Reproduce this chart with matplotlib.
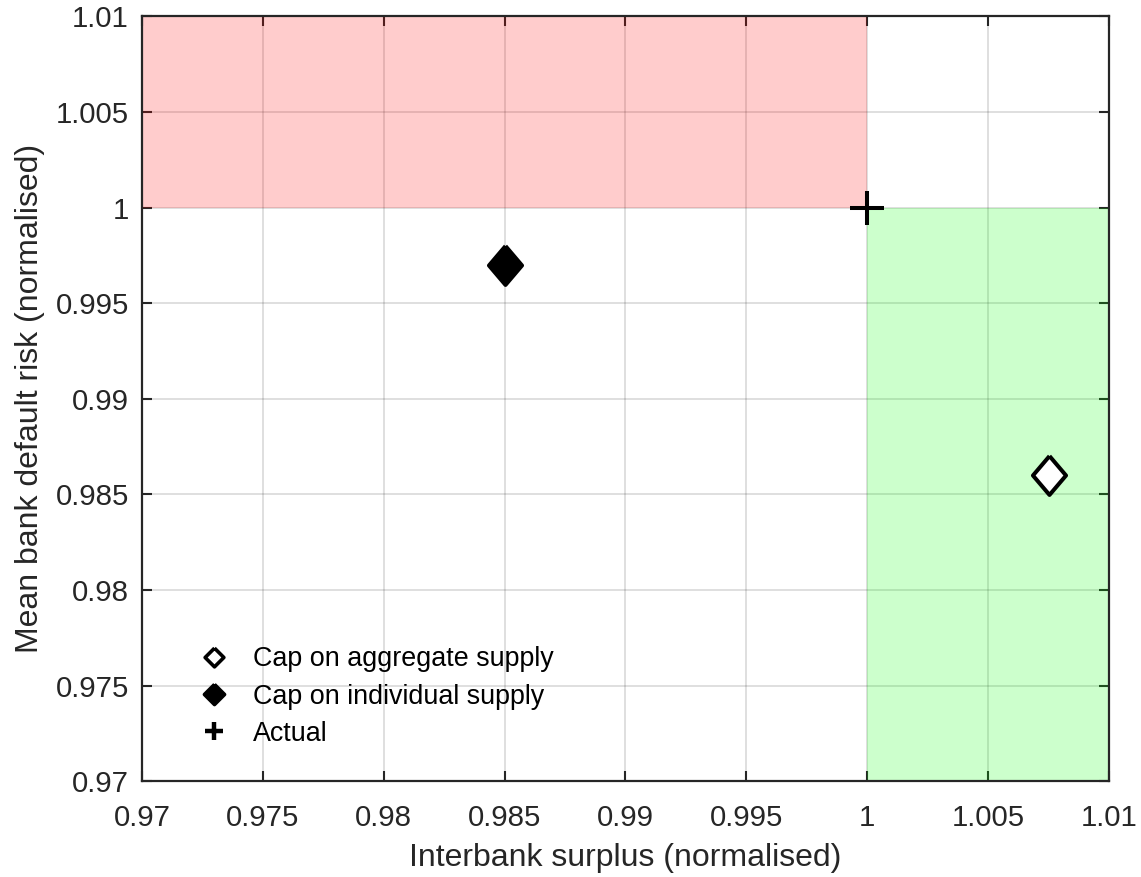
import numpy as np
import matplotlib
matplotlib.use('Agg')
import matplotlib.pyplot as plt
from matplotlib.lines import Line2D
from matplotlib.ticker import FuncFormatter

plt.rcParams['font.family'] = ['Liberation Sans', 'DejaVu Sans']

# normalised outcomes of the two policy scenarios and the actual outcome
labels = ['Cap on aggregate supply', 'Cap on individual supply', 'Actual']
surplus = [1.0075, 0.985, 1.0]
default_risk = [0.986, 0.997, 1.0]

xlim = (0.97, 1.01)
ylim = (0.97, 1.01)
ticks = [0.97, 0.975, 0.98, 0.985, 0.99, 0.995, 1.0, 1.005, 1.01]

# diamond a bit narrower than it is tall (plot), square one for the legend
diamond = [(0, 1), (0.85, 0), (0, -1), (-0.85, 0), (0, 1)]
diamond_sq = [(0, 1), (1, 0), (0, -1), (-1, 0), (0, 1)]
ink = '#262626'

fig = plt.figure(figsize=(11.41, 8.77), dpi=100)
ax = fig.add_axes([0.12445, 0.1091, 0.8475, 0.8723])

# worse-than-actual region (more risk, less surplus) and better region
ax.fill_between([xlim[0], 1.0], 1.0, ylim[1], color=(1, 0, 0), alpha=0.2, lw=0, zorder=1)
ax.fill_between([1.0, xlim[1]], ylim[0], 1.0, color=(0, 1, 0), alpha=0.2, lw=0, zorder=1)

ax.plot(surplus[0], default_risk[0], marker=diamond, ms=28, mfc='white', mec='black',
        mew=2.9, ls='none', zorder=5)
ax.plot(surplus[1], default_risk[1], marker=diamond, ms=28, mfc='black', mec='black',
        mew=2.9, ls='none', zorder=5)
ax.plot(surplus[2], default_risk[2], marker='+', ms=24, mec='black', mew=2.9,
        ls='none', zorder=5)

ax.set_xlim(*xlim)
ax.set_ylim(*ylim)
ax.set_xticks(ticks)
ax.set_yticks(ticks)
fmt = FuncFormatter(lambda v, pos: '%g' % round(v, 4))
ax.xaxis.set_major_formatter(fmt)
ax.yaxis.set_major_formatter(fmt)
ax.grid(True, color='black', alpha=0.15, lw=1.2, zorder=0)
ax.set_axisbelow(True)
ax.tick_params(direction='in', length=7.2, width=1.5, colors=ink, labelsize=21.2,
               top=True, right=True)
ax.tick_params(axis='x', pad=16.5)
ax.tick_params(axis='y', pad=9.4)
for s in ax.spines.values():
    s.set_color(ink)
    s.set_linewidth(1.6)

ax.set_xlabel('Interbank surplus (normalised)', fontsize=23, color=ink, labelpad=7.4)
ax.set_ylabel('Mean bank default risk (normalised)', fontsize=23, color=ink, labelpad=7.5)

handles = [
    Line2D([], [], marker=diamond_sq, ms=13.5, mfc='white', mec='black', mew=2.6, ls='none'),
    Line2D([], [], marker=diamond_sq, ms=14.5, mfc='black', mec='black', mew=2.6, ls='none'),
    Line2D([], [], marker='+', ms=13, mec='black', mew=3.2, ls='none'),
]
ax.legend(handles, labels, loc='lower left', bbox_to_anchor=(0.0494, 0.031), frameon=False,
          fontsize=19.4, handlelength=1.0, handletextpad=0.94, labelspacing=0.42,
          borderaxespad=0)

fig.savefig('out.png', dpi=100)
